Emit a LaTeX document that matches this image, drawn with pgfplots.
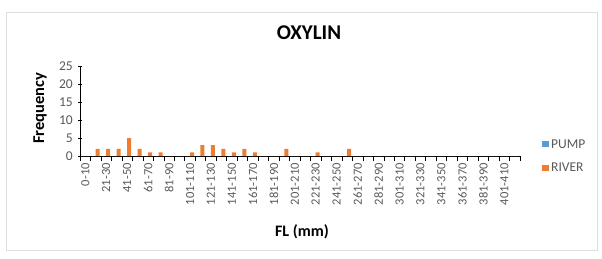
\documentclass[border=0pt]{standalone}
\usepackage{pgfplots}
\pgfplotsset{compat=1.18}
\usepackage{fontspec}
\setmainfont{Carlito}
\definecolor{pumpc}{RGB}{91,155,213}
\definecolor{riverc}{RGB}{237,125,49}
\definecolor{tickgray}{RGB}{89,89,89}
\begin{document}
\begin{tikzpicture}[x=1pt,y=1pt]
\path (0,0) rectangle (602,258);
\draw[gray!25,line width=0.8pt] (6,8) rectangle (597,246);
\begin{axis}[
  at={(80pt,102pt)}, anchor=south west,
  scale only axis, width=440pt, height=90pt,
  xmin=-0.5, xmax=41.5, ymin=0, ymax=25,
  /pgf/number format/assume math mode=true,
  ytick={0,5,...,25},
  minor ytick={0,5,...,25},
  xtick={0,2,...,40},
  xticklabels={0-10,21-30,41-50,61-70,81-90,101-110,121-130,141-150,161-170,181-190,201-210,221-230,241-250,261-270,281-290,301-310,321-330,341-350,361-370,381-390,401-410},
  minor xtick={-0.5,0.5,...,41.5},
  x tick label style={rotate=90, anchor=east, font=\fontsize{12.5}{13}\selectfont, text=tickgray, inner sep=2pt},
  y tick label style={font=\fontsize{13.5}{14}\selectfont, text=tickgray, inner sep=2pt},
  xticklabel shift=5pt,
  yticklabel shift=5pt,
  major tick length=0pt,
  minor tick length=4.5pt,
  every minor tick/.style={black, line width=0.6pt},
  tick align=outside,
  axis x line=bottom, axis y line=left,
  axis line style={black, line width=0.6pt, -},
  ybar=0pt, bar width=4pt,
  legend style={draw=none, fill=none, at={(1.05,0.0)}, anchor=west, font=\fontsize{13.5}{14}\selectfont, text=tickgray, row sep=9pt, inner sep=0pt},
  legend cell align=left,
  legend image code/.code={\fill[#1] (0pt,-3pt) rectangle (7pt,3pt);},
]
\addplot[fill=pumpc, draw=none] coordinates {
(0,0)(1,0)(2,0)(3,0)(4,0)(5,0)(6,0)(7,0)(8,0)(9,0)(10,0)(11,0)(12,0)(13,0)(14,0)(15,0)(16,0)(17,0)(18,0)(19,0)(20,0)
(21,0)(22,0)(23,0)(24,0)(25,0)(26,0)(27,0)(28,0)(29,0)(30,0)(31,0)(32,0)(33,0)(34,0)(35,0)(36,0)(37,0)(38,0)(39,0)(40,0)(41,0)};
\addlegendentry{PUMP}
\addplot[fill=riverc, draw=none] coordinates {
(0,0)(1,2)(2,2)(3,2)(4,5)(5,2)(6,1)(7,1)(8,0)(9,0)(10,1)(11,3)(12,3)(13,2)(14,1)(15,2)(16,1)(17,0)(18,0)(19,2)(20,0)
(21,0)(22,1)(23,0)(24,0)(25,2)(26,0)(27,0)(28,0)(29,0)(30,0)(31,0)(32,0)(33,0)(34,0)(35,0)(36,0)(37,0)(38,0)(39,0)(40,0)(41,0)};
\addlegendentry{RIVER}
\end{axis}
\node[font=\bfseries\fontsize{21}{24}\selectfont] at (309,225) {OXYLIN};
\node[font=\bfseries\fontsize{16.5}{18}\selectfont, rotate=90] at (40,150) {Frequency};
\node[font=\bfseries\fontsize{16}{18}\selectfont] at (302,26) {FL (mm)};
\end{tikzpicture}
\end{document}
